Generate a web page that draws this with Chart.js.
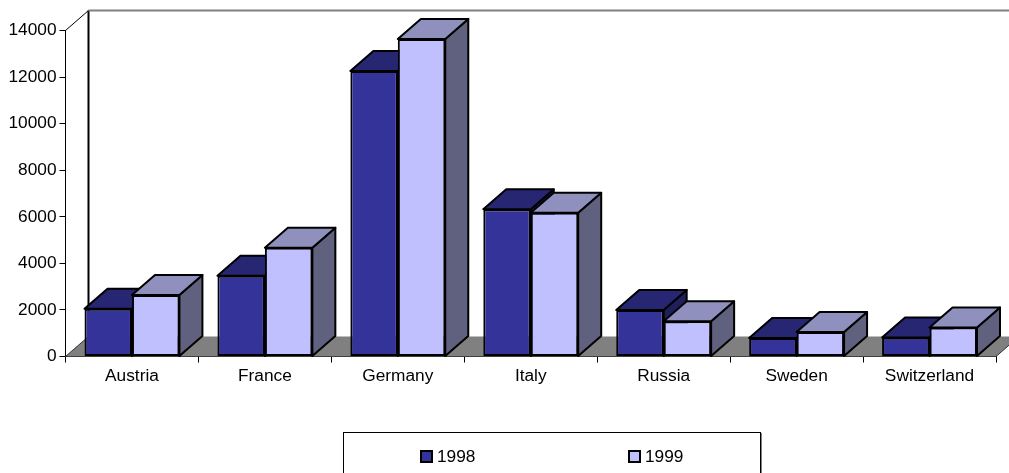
<!DOCTYPE html>
<html>
<head>
<meta charset="utf-8">
<style>
  html, body { margin: 0; padding: 0; background: #fff; overflow: hidden; }
  canvas { display: block; }
</style>
<script src="https://cdn.jsdelivr.net/npm/chart.js@4/dist/chart.umd.min.js"></script>
</head>
<body>
<canvas id="chart" width="1009" height="473"></canvas>
<script>
const categories = ['Austria', 'France', 'Germany', 'Italy', 'Russia', 'Sweden', 'Switzerland'];
const values1998 = [2050, 3470, 12260, 6320, 2000, 790, 820];
const values1999 = [2640, 4670, 13640, 6170, 1510, 1050, 1250];
const seriesLabels = ['1998', '1999'];

const FAMILY = '"Liberation Sans", Arial, sans-serif';
const DX = 23, DY = -20;   // depth of the fake 3d
const shades = [
  { front: '#333399', top: '#262673', side: '#1f1f5c' },
  { front: '#C0C0FF', top: '#9090BF', side: '#60607F' }
];

const threeD = {
  id: 'threeD',
  beforeDatasetsDraw(chart) {
    const { ctx, chartArea: a } = chart;
    const w = chart.width;
    ctx.save();
    // floor
    ctx.beginPath();
    ctx.moveTo(a.left, a.bottom);
    ctx.lineTo(a.left + DX, a.bottom + DY);
    ctx.lineTo(a.right + DX, a.bottom + DY);
    ctx.lineTo(a.right, a.bottom);
    ctx.closePath();
    ctx.fillStyle = '#808080';
    ctx.fill();
    ctx.strokeStyle = '#333';
    ctx.lineWidth = 1;
    ctx.beginPath();
    ctx.moveTo(a.right, a.bottom);
    ctx.lineTo(a.right + DX, a.bottom + DY);
    ctx.moveTo(a.left, a.bottom);
    ctx.lineTo(a.left + DX, a.bottom + DY);
    ctx.stroke();
    // back wall
    ctx.strokeStyle = '#000';
    ctx.beginPath();
    ctx.moveTo(a.left, a.top);
    ctx.lineTo(a.left + DX, a.top + DY);
    ctx.stroke();
    ctx.lineWidth = 2;
    ctx.beginPath();
    ctx.moveTo(a.left + DX, a.top + DY);
    ctx.lineTo(a.left + DX, a.bottom + DY);
    ctx.stroke();
    ctx.strokeStyle = '#808080';
    ctx.beginPath();
    ctx.moveTo(a.left + DX, a.top + DY);
    ctx.lineTo(w, a.top + DY);
    ctx.stroke();

    // bars: 1998 first so that 1999 sits in front of it
    ctx.strokeStyle = '#000';
    ctx.lineJoin = 'round';
    chart.data.datasets.forEach((d, i) => {
      const s = shades[i];
      chart.getDatasetMeta(i).data.forEach(bar => {
        const l = bar.x - bar.width / 2, r = bar.x + bar.width / 2;
        const t = bar.y, b = bar.base;
        ctx.lineWidth = 2;
        ctx.beginPath();
        ctx.moveTo(r, t);
        ctx.lineTo(r + DX, t + DY);
        ctx.lineTo(r + DX, b + DY);
        ctx.lineTo(r, b);
        ctx.closePath();
        ctx.fillStyle = s.side;
        ctx.fill();
        ctx.stroke();
        ctx.beginPath();
        ctx.moveTo(l, t);
        ctx.lineTo(l + DX, t + DY);
        ctx.lineTo(r + DX, t + DY);
        ctx.lineTo(r, t);
        ctx.closePath();
        ctx.fillStyle = s.top;
        ctx.fill();
        ctx.stroke();
        bar.draw(ctx);
      });
    });
    ctx.restore();
  },
  beforeDatasetDraw() {
    return false;   // already drawn above
  },
  afterDraw(chart) {
    const { ctx } = chart;
    ctx.save();
    // legend frame runs off the bottom of the picture
    ctx.fillStyle = '#808080';
    ctx.fillRect(761, 433, 1, 40);
    ctx.strokeStyle = '#000';
    ctx.lineWidth = 1;
    ctx.strokeRect(343.5, 432.5, 417, 60);
    const xs = [421, 629];
    ctx.font = '17.3px ' + FAMILY;
    ctx.textBaseline = 'middle';
    chart.data.datasets.forEach((d, i) => {
      ctx.fillStyle = d.backgroundColor;
      ctx.strokeStyle = '#000';
      ctx.lineWidth = 2;
      ctx.fillRect(xs[i], 451, 11, 11);
      ctx.strokeRect(xs[i], 451, 11, 11);
      ctx.fillStyle = '#000';
      ctx.fillText(d.label, xs[i] + 16, 457);
    });
    ctx.restore();
  }
};

new Chart(document.getElementById('chart'), {
  type: 'bar',
  data: {
    labels: categories,
    datasets: [
      { label: seriesLabels[0], data: values1998, backgroundColor: shades[0].front },
      { label: seriesLabels[1], data: values1999, backgroundColor: shades[1].front }
    ]
  },
  options: {
    responsive: false,
    animation: false,
    layout: { padding: { top: 30.5, right: 13, left: 0, bottom: 0 } },
    datasets: {
      bar: {
        categoryPercentage: 0.714,
        barPercentage: 1,
        borderColor: '#000',
        borderWidth: 2,
        borderSkipped: false
      }
    },
    plugins: { legend: { display: false }, tooltip: { enabled: false } },
    scales: {
      x: {
        afterFit(scale) { scale.height = 116.5; },
        grid: { drawOnChartArea: false, color: '#000', tickLength: 6 },
        border: { color: '#000', width: 1 },
        ticks: { color: '#000', font: { family: FAMILY, size: 17.3 }, maxRotation: 0, autoSkip: false, padding: 3 }
      },
      y: {
        min: 0,
        max: 14000,
        afterFit(scale) { scale.width = 65.5; },
        grid: { drawOnChartArea: false, color: '#000', tickLength: 6 },
        border: { color: '#000', width: 1 },
        ticks: { stepSize: 2000, color: '#000', font: { family: FAMILY, size: 17.3 }, padding: 3, callback: v => String(v) }
      }
    }
  },
  plugins: [threeD]
});
</script>
</body>
</html>
